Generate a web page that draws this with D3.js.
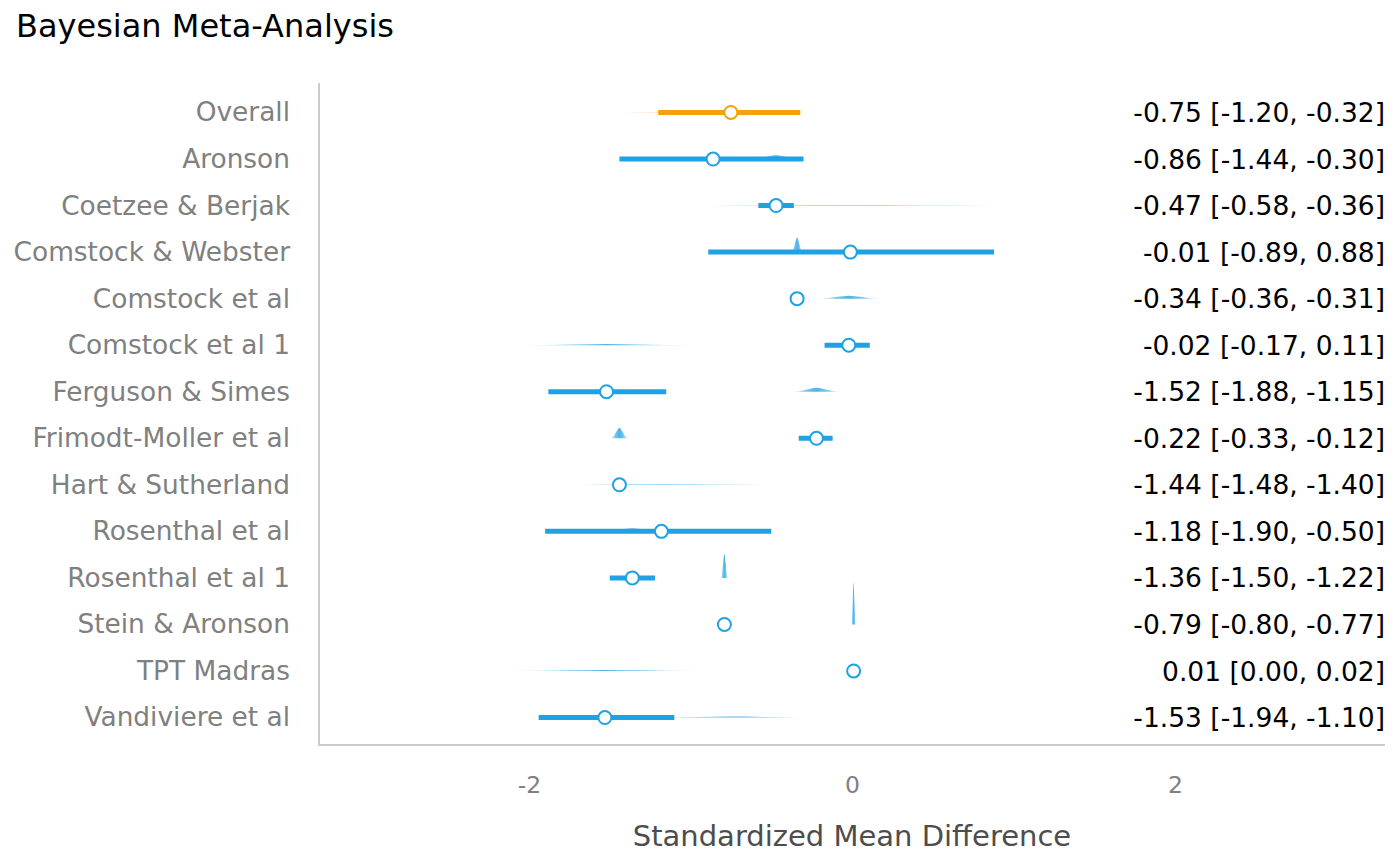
<!DOCTYPE html>
<html>
<head>
<meta charset="utf-8">
<script src="https://cdn.jsdelivr.net/npm/d3@7"></script>
<style>
  body { margin: 0; background: #fff; }
  text { font-family: "DejaVu Sans", sans-serif; }
</style>
</head>
<body>
<svg id="chart"></svg>
<script>
// Study labels, top to bottom
const studies = [
  'Overall', 'Aronson', 'Coetzee & Berjak', 'Comstock & Webster', 'Comstock et al',
  'Comstock et al 1', 'Ferguson & Simes', 'Frimodt-Moller et al', 'Hart & Sutherland',
  'Rosenthal et al', 'Rosenthal et al 1', 'Stein & Aronson', 'TPT Madras', 'Vandiviere et al'
];
// Posterior mean and 95% interval
const estimates = [-0.75, -0.86, -0.47, -0.01, -0.34, -0.02, -1.52, -0.22, -1.44, -1.18, -1.36, -0.79, 0.01, -1.53];
const lower     = [-1.20, -1.44, -0.58, -0.89, -0.36, -0.17, -1.88, -0.33, -1.48, -1.90, -1.50, -0.80, 0.00, -1.94];
const upper     = [-0.32, -0.30, -0.36, 0.88, -0.31, 0.11, -1.15, -0.12, -1.40, -0.50, -1.22, -0.77, 0.02, -1.10];

// Density ridges as drawn in each row: [x, density]
const densities = [
  [[-1.73, 0], [-1.44, 0.19], [-1.15, 0.85], [-0.86, 1.4], [-0.57, 0.85], [-0.28, 0.19], [0.01, 0]],
  [[-0.64, 0], [-0.58, 1.0], [-0.53, 4.3], [-0.47, 7.1], [-0.41, 4.3], [-0.36, 1.0], [-0.30, 0]],
  [[-1.36, 0], [-0.91, 0.12], [-0.46, 0.54], [-0.01, 0.89], [0.44, 0.54], [0.89, 0.12], [1.34, 0]],
  [[-0.38, 0], [-0.365, 4], [-0.352, 18], [-0.34, 28], [-0.328, 18], [-0.315, 4], [-0.30, 0]],
  [[-0.23, 0], [-0.16, 0.8], [-0.09, 3.4], [-0.02, 5.7], [0.05, 3.4], [0.12, 0.8], [0.19, 0]],
  [[-2.09, 0], [-1.90, 0.29], [-1.71, 1.27], [-1.52, 2.1], [-1.33, 1.27], [-1.14, 0.29], [-0.95, 0]],
  [[-0.38, 0], [-0.33, 1.0], [-0.27, 4.5], [-0.22, 7.4], [-0.17, 4.5], [-0.11, 1.0], [-0.06, 0]],
  [[-1.50, 0], [-1.48, 2.7], [-1.46, 12], [-1.44, 20], [-1.42, 12], [-1.40, 2.7], [-1.38, 0]],
  [[-2.23, 0], [-1.88, 0.15], [-1.53, 0.69], [-1.18, 1.14], [-0.83, 0.69], [-0.48, 0.15], [-0.13, 0]],
  [[-1.57, 0], [-1.50, 0.8], [-1.43, 3.4], [-1.36, 5.7], [-1.29, 3.4], [-1.22, 0.8], [-1.15, 0]],
  [[-0.813, 0], [-0.805, 7], [-0.798, 28], [-0.79, 46], [-0.782, 28], [-0.775, 7], [-0.767, 0]],
  [[-0.005, 0], [0.0, 11], [0.005, 48], [0.01, 80], [0.015, 48], [0.02, 11], [0.025, 0]],
  [[-2.16, 0], [-1.95, 0.26], [-1.74, 1.15], [-1.53, 1.9], [-1.32, 1.15], [-1.11, 0.26], [-0.90, 0]],
  [[-1.41, 0], [-1.19, 0.25], [-0.97, 1.1], [-0.75, 1.8], [-0.53, 1.1], [-0.31, 0.25], [-0.09, 0]]
];

const xTicks = [-2, 0, 2];
const xDomain = [-3.3, 3.3];

const width = 1400, height = 866;
const blue = '#1fa1e3', orange = '#f0a30a';
const colorOf = i => i === 0 ? orange : blue;

const svg = d3.select('#chart')
  .attr('width', width)
  .attr('height', height)
  .attr('viewBox', `0 0 ${width} ${height}`);

const plot = { left: 319, right: 1385, top: 83, bottom: 745 };

const xScale = d3.scaleLinear().domain(xDomain).range([plot.left, plot.right]);
const yScale = d3.scalePoint().domain(studies).range([plot.top + 1, plot.bottom + 1]).padding(0.612);
const dScale = d3.scaleLinear().domain([0, 80]).range([0, 42]);

// Gradients for the ridge fills
const defs = svg.append('defs');
[['grad-blue', blue], ['grad-orange', orange]].forEach(([id, c]) => {
  const lg = defs.append('linearGradient').attr('id', id)
    .attr('x1', 0).attr('x2', 1).attr('y1', 0).attr('y2', 0);
  lg.append('stop').attr('offset', '0%').attr('stop-color', c).attr('stop-opacity', 0);
  lg.append('stop').attr('offset', '30%').attr('stop-color', c).attr('stop-opacity', 0.6);
  lg.append('stop').attr('offset', '50%').attr('stop-color', c).attr('stop-opacity', 0.8);
  lg.append('stop').attr('offset', '70%').attr('stop-color', c).attr('stop-opacity', 0.6);
  lg.append('stop').attr('offset', '100%').attr('stop-color', c).attr('stop-opacity', 0);
});

// Title
svg.append('text')
  .attr('x', 16)
  .attr('y', 37)
  .attr('font-size', '32px')
  .attr('fill', '#000')
  .text('Bayesian Meta-Analysis');

// Axis lines
svg.append('line')
  .attr('x1', plot.left).attr('x2', plot.left)
  .attr('y1', plot.top).attr('y2', plot.bottom + 1)
  .attr('stroke', '#cccccc').attr('stroke-width', 2);
svg.append('line')
  .attr('x1', plot.left - 1).attr('x2', plot.right)
  .attr('y1', plot.bottom).attr('y2', plot.bottom)
  .attr('stroke', '#cccccc').attr('stroke-width', 2);

// X axis labels (no tick marks)
const xAxis = svg.append('g')
  .attr('transform', `translate(0, ${plot.bottom})`)
  .call(d3.axisBottom(xScale).tickValues(xTicks).tickSize(0).tickPadding(31).tickFormat(d => String(d)));
xAxis.select('.domain').remove();
xAxis.selectAll('text')
  .attr('font-size', '23.5px')
  .attr('font-family', '"DejaVu Sans", sans-serif')
  .attr('fill', '#808080');

svg.append('text')
  .attr('x', xScale(0))
  .attr('y', 846)
  .attr('text-anchor', 'middle')
  .attr('font-size', '29px')
  .attr('fill', '#4d4d4d')
  .text('Standardized Mean Difference');

// Y axis labels
const yAxis = svg.append('g')
  .attr('transform', `translate(${plot.left}, 0)`)
  .call(d3.axisLeft(yScale).tickSize(0).tickPadding(29));
yAxis.select('.domain').remove();
yAxis.selectAll('text')
  .attr('font-size', '26.4px')
  .attr('font-family', '"DejaVu Sans", sans-serif')
  .attr('fill', '#808080');

// Density ridges
const area = d3.area()
  .x(d => xScale(d[0]))
  .y0(0)
  .y1(d => -dScale(d[1]))
  .curve(d3.curveMonotoneX);

const ridges = svg.append('g');
densities.forEach((pts, i) => {
  ridges.append('path')
    .datum(pts)
    .attr('transform', `translate(0, ${yScale(studies[i])})`)
    .attr('fill', i === 0 ? 'url(#grad-orange)' : 'url(#grad-blue)')
    .attr('d', area);
});

// Intervals
svg.append('g').selectAll('line')
  .data(studies)
  .join('line')
  .attr('x1', (d, i) => xScale(lower[i]))
  .attr('x2', (d, i) => xScale(upper[i]))
  .attr('y1', d => yScale(d))
  .attr('y2', d => yScale(d))
  .attr('stroke', (d, i) => colorOf(i))
  .attr('stroke-width', 5);

// Point estimates
svg.append('g').selectAll('circle')
  .data(studies)
  .join('circle')
  .attr('cx', (d, i) => xScale(estimates[i]))
  .attr('cy', d => yScale(d))
  .attr('r', 6.5)
  .attr('fill', '#fff')
  .attr('stroke', (d, i) => colorOf(i))
  .attr('stroke-width', 2);

// Right-hand text
const fmt = d3.format('.2f');
const fmtNum = v => fmt(v).replace('−', '-');
svg.append('g').selectAll('text')
  .data(studies)
  .join('text')
  .attr('x', plot.right)
  .attr('y', d => yScale(d))
  .attr('dy', '0.36em')
  .attr('text-anchor', 'end')
  .attr('font-size', '26.5px')
  .attr('fill', '#000')
  .text((d, i) => `${fmtNum(estimates[i])} [${fmtNum(lower[i])}, ${fmtNum(upper[i])}]`);
</script>
</body>
</html>
